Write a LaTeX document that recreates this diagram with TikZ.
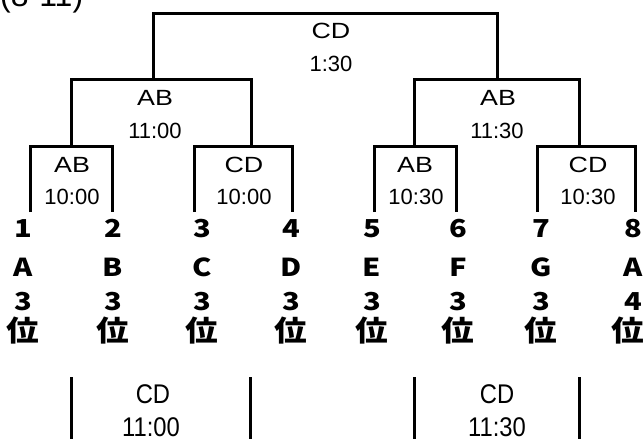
\documentclass[tikz,border=0pt]{standalone}
\usepackage{fontspec}
\setmainfont{Liberation Sans}
\newfontfamily\cjk{Noto Sans CJK JP}
\begin{document}
\begin{tikzpicture}[x=1pt,y=-1pt,
  br/.style={line width=3pt,line join=miter},
  txt/.style={font=\fontsize{22}{22}\selectfont,anchor=base,inner sep=0pt},
  txtl/.style={txt,xscale=1.22},
  bigtxt/.style={font=\fontsize{27}{27}\selectfont,anchor=base,inner sep=0pt,xscale=0.88},
  leaf/.style={font=\cjk\bfseries\fontsize{26}{26}\selectfont,xscale=1.12,yscale=0.95,anchor=base,inner sep=0pt},
  rank/.style={font=\cjk\bfseries\fontsize{32}{32}\selectfont,xscale=1.02,yscale=0.9,anchor=base,inner sep=0pt}]
\useasboundingbox (0,0) rectangle (643,439);
% coordinates of the bracket
\coordinate (b1) at (30,212);  \coordinate (b2) at (112,212);
\coordinate (b3) at (194,212); \coordinate (b4) at (292,212);
\coordinate (b5) at (374,212); \coordinate (b6) at (456,212);
\coordinate (b7) at (537,212); \coordinate (b8) at (635,212);
\coordinate (t12) at (71,146);  \coordinate (t34) at (251,146);
\coordinate (t56) at (414,146); \coordinate (t78) at (579,146);
\coordinate (u1) at (153,79); \coordinate (u2) at (497,79);
\coordinate (top) at (331,13);
\draw[br] (b1) |- (t12) -| (b2);
\draw[br] (b3) |- (t34) -| (b4);
\draw[br] (b5) |- (t56) -| (b6);
\draw[br] (b7) |- (t78) -| (b8);
\draw[br] (t12) |- (u1) -| (t34);
\draw[br] (t56) |- (u2) -| (t78);
\draw[br] (u1) |- (top) -| (u2);
% bottom lines
\coordinate (c1s) at (71,377);  \coordinate (c1e) at (71,439);
\coordinate (c2s) at (250,377); \coordinate (c2e) at (250,439);
\coordinate (c3s) at (414,377); \coordinate (c3e) at (414,439);
\coordinate (c4s) at (579,377); \coordinate (c4e) at (579,439);
\draw[br] (c1s) -- (c1e);
\draw[br] (c2s) -- (c2e);
\draw[br] (c3s) -- (c3e);
\draw[br] (c4s) -- (c4e);
% title
\node[font=\fontsize{32}{32}\selectfont,anchor=base west,inner sep=0pt] (title) at (0,6) {(8-11)};
% match labels
\node[txtl] (m7a) at (331,38) {CD};  \node[txt] (m7b) at (331,71) {1:30};
\node[txtl] (m5a) at (155,105) {AB}; \node[txt] (m5b) at (155,138) {11:00};
\node[txtl] (m6a) at (498,105) {AB}; \node[txt] (m6b) at (497,138) {11:30};
\node[txtl] (m1a) at (72,172) {AB};  \node[txt] (m1b) at (72,204) {10:00};
\node[txtl] (m2a) at (244,172) {CD}; \node[txt] (m2b) at (244,204) {10:00};
\node[txtl] (m3a) at (415,172) {AB}; \node[txt] (m3b) at (416,204) {10:30};
\node[txtl] (m4a) at (588,172) {CD}; \node[txt] (m4b) at (588,204) {10:30};
% leaves
\foreach \i/\x/\n/\l/\r/\k in {1/23/1/A/3/23,2/113/2/B/3/113,3/202/3/C/3/202,4/291/4/D/3/291,5/372/5/E/3/372,6/458/6/F/3/458,7/541/7/G/3/541,8/633/8/A/4/628}{
  \node[leaf] (n\i) at (\x,237) {\n};
  \node[leaf] (l\i) at (\x,276) {\l};
  \node[leaf] (r\i) at (\x,310) {\r};
  \node[rank] (k\i) at (\k,341) {位};
}
% bottom labels
\node[bigtxt] (p1a) at (153,403) {CD}; \node[bigtxt] (p1b) at (151,436) {11:00};
\node[bigtxt] (p2a) at (497,403) {CD}; \node[bigtxt] (p2b) at (497,436) {11:30};
\end{tikzpicture}
\end{document}
